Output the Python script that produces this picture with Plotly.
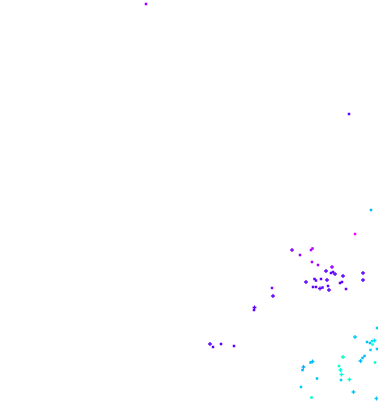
import plotly.graph_objects as go
import colorsys

# data (x, y in plot units; y increases upward)
sq_x = [146, 349, 371, 355, 300, 311, 312.5, 312, 318, 331, 333, 314.5, 316, 321, 342, 340,
        313, 316, 322.5, 328, 346, 272, 254, 213, 221, 234,
        377, 367, 370, 372, 372.5, 377, 370.5, 364.5, 362.5, 375, 302.5, 310.5, 339, 341,
        317, 301, 311.5]
sq_y = [402, 292, 196, 172, 151, 156, 157.5, 144, 141, 133, 134, 127, 125.5, 127, 124, 123,
        119, 119, 118.5, 120, 117, 118, 96, 59, 62, 60,
        78, 64, 63, 65, 61.5, 57, 56, 50, 48, 43.5, 36, 43.5, 40, 26,
        27.5, 19, 8.5]
sq_c = [275, 262, 195, 300, 275, 282, 282, 278, 278, 262, 262, 262, 262, 262, 262, 262,
        262, 262, 262, 262, 262, 272, 262, 262, 262, 262,
        190, 192, 192, 180, 170, 190, 188, 195, 195, 170, 197, 195, 170, 190,
        192, 190, 165]

cr_x = [292, 332, 326, 335, 343, 363, 363, 306, 327, 320, 329, 273, 254.5, 210,
        355, 374.5, 343, 360.5, 303.5, 312.5, 340.5, 341.5, 349.5, 353.5, 376.5]
cr_y = [156, 139, 135, 132, 130, 133, 126, 124, 126, 117.5, 116, 110, 98.5, 62,
        69, 65.5, 49, 45, 39, 44.5, 36, 31.5, 26.5, 14, 7.5]
cr_c = [272, 276, 262, 262, 262, 262, 262, 262, 262, 262, 262, 262, 262, 262,
        190, 185, 165, 195, 197, 195, 175, 170, 170, 190, 190]

hue_min, hue_max = 150, 300
stops = []
for i in range(7):
    h = hue_min + (hue_max - hue_min) * i / 6
    r, g, b = colorsys.hsv_to_rgb(h / 360.0, 1, 1)
    stops.append([i / 6, "rgb(%d,%d,%d)" % (round(r * 255), round(g * 255), round(b * 255))])

fig = go.Figure()
fig.add_trace(go.Scatter(
    x=sq_x, y=sq_y, mode="markers",
    marker=dict(symbol="square", size=2.5, color=sq_c, colorscale=stops,
                cmin=hue_min, cmax=hue_max, line=dict(width=0)),
    showlegend=False, hoverinfo="skip"))
fig.add_trace(go.Scatter(
    x=cr_x, y=cr_y, mode="markers",
    marker=dict(symbol="cross", size=3.2, color=cr_c, colorscale=stops,
                cmin=hue_min, cmax=hue_max, line=dict(width=0)),
    showlegend=False, hoverinfo="skip"))

fig.update_layout(
    width=378, height=406,
    margin=dict(l=0, r=0, t=0, b=0),
    paper_bgcolor="white", plot_bgcolor="white",
    xaxis=dict(range=[0, 378], visible=False),
    yaxis=dict(range=[0, 406], visible=False),
)
fig.write_html("out.html", config={"displayModeBar": False})
